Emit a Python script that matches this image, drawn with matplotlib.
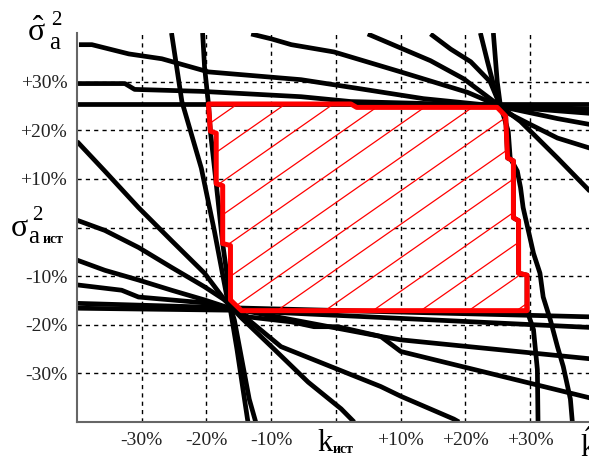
import numpy as np
import matplotlib
matplotlib.use('Agg')
import matplotlib.pyplot as plt
from matplotlib.patches import Polygon

plt.rcParams['mathtext.fontset'] = 'custom'
plt.rcParams['mathtext.rm'] = 'Liberation Serif'
plt.rcParams['mathtext.it'] = 'Liberation Serif:italic'

# axis values, in %
grid_vals = [-30, -20, -10, 0, 10, 20, 30]
x_tick_vals = [-30, -20, -10, 10, 20, 30]
x_tick_labels = ['-30%', '-20%', '-10%', '+10%', '+20%', '+30%']
y_tick_vals = [30, 20, 10, -10, -20, -30]
y_tick_labels = ['+30%', '+20%', '+10%', '-10%', '-20%', '-30%']

# black curves through the upper node (about +25%, +25%)
h25 = ([-40, 40], [25.3, 25.3])
line_a = ([-39.7, -37.7, -32, -26.9, -19.7, -5.4, 3.4, 13.5, 25.4, 40],
          [37.6, 37.6, 35.7, 34.7, 32.0, 30.4, 28.6, 26.5, 24.9, 23.4])
line_a2 = ([-40, -32.6, -31.1, -20.8, -5.4, 2.3, 25.4, 40],
           [29.6, 29.6, 28.4, 28.0, 26.9, 25.9, 25.1, 24.3])
line_b = ([-13.1, -10, -6.9, -0.3, 10, 20.3, 25.4, 34.2, 40],
          [39.8, 38.8, 37.6, 36.1, 32.0, 27.8, 24.9, 22.4, 21.0])
line_c = ([4.9, 14.6, 19.7, 25.4, 26.9, 30, 34.2, 40],
          [39.8, 34.3, 30.6, 24.9, 23.3, 21.2, 18.4, 16.0])
line_d = ([14.6, 17.7, 20.8, 23.8, 25.4, 28.5, 31.1, 34.2, 37.2, 40],
          [39.8, 36.7, 34.1, 30.0, 24.9, 21.8, 18.4, 14.3, 10.2, 6.4])
line_v1 = ([22.3, 23.4, 24.6, 25.4, 25.8, 26.6, 26.9, 28.0, 28.5, 28.9, 29.7,
            30.5, 31.5, 32.0, 33.1, 34.2, 35.1, 36.2, 36.5],
           [40, 34.1, 28.0, 24.9, 23.3, 19.8, 14.3, 11.6, 8.2, 4.1, -0.6,
            -5.3, -9.4, -14.3, -19.0, -24.5, -28.6, -35.3, -40])
line_v2 = ([24.3, 24.9, 25.4, 26.2, 26.5, 27.4, 27.4, 28.2, 28.2, 29.5, 29.5,
            30.5, 31.1, 31.2],
           [40, 30.0, 24.9, 22.9, 14.3, 13.7, 2.0, 1.4, -9.4, -9.8, -17.1,
            -21.0, -29.2, -40])

# black curves through the lower node (about -17%, -17%)
line_l0 = ([-25.4, -23.8, -20.8, -18.8, -16.9, -15.7, -13.4, -12.4],
           [40, 25.9, 12.2, -0.6, -13.9, -19.0, -35.3, -40])
line_red_left = ([-20.6, -20.3, -19.7, -19.4, -18.5, -17.5, -16.3, -16.3, -15.3, -13.6],
                 [40, 33, 25.4, 19.8, 9.0, -3.3, -14.9, -17.0, -25, -40])
line_l1 = ([-40, -35.7, -30.5, -25.4, -20.3, -17.2, -14.6, -9.5, -4.3, 0.8, 2.8],
           [17.7, 11.6, 4.1, -2.7, -9.4, -14.9, -18.6, -25.1, -31.8, -37.3, -40])
line_l2 = ([-40, -35.7, -30.5, -25.4, -20.3, -17.2, -13.5, -8.5, -2.3, 6.9, 10, 18.2, 19.0],
           [1.5, -0.6, -4.1, -8.2, -12.2, -14.9, -19.0, -24.5, -27.8, -32.7, -34.7, -39.4, -40])
line_l3 = ([-40, -35.7, -30.5, -25.4, -20.3, -16.6, 6.9, 10, 40],
           [-6.7, -8.8, -10.8, -12.9, -14.9, -16.5, -22.4, -25.5, -35.3])
line_l4 = ([-40, -33.1, -30.5, -20.3, -16.6, -13.5, -6.9, -3.4, 0.3, 6.9, 10, 40],
           [-11.8, -12.9, -14.3, -15.5, -16.5, -18.4, -19.4, -20.4, -20.4, -22.4, -23.1, -27.1])
line_l5a = ([-40, -16.6, 40], [-15.6, -16.5, -18.4])
line_l5b = ([-40, -16.6, 40], [-16.6, -17.0, -20.6])

black_lines = [h25, line_a, line_a2, line_b, line_c, line_d, line_v1, line_v2,
               line_l0, line_red_left, line_l1, line_l2, line_l3, line_l4,
               line_l5a, line_l5b]

# red region outline
red_x = [-19.7, -19.4, -18.5, -18.5, -17.5, -17.5, -16.3, -16.3, -14.6, 29.5,
         29.5, 28.2, 28.2, 27.4, 27.4, 26.5, 26.2, 24.9, 3.2, 2.3]
red_y = [25.4, 19.8, 19.4, 9.0, 8.6, -3.3, -3.7, -14.9, -17.1, -17.1,
         -9.8, -9.4, 1.4, 2.0, 13.7, 14.3, 22.9, 24.7, 24.7, 25.4]

# hatch style (slope in data units, spacing along x)
HATCH_SLOPE = 0.93
HATCH_STEP = 7.4
HATCH_PHASE = 13.1

W, H = 589, 458
fig = plt.figure(figsize=(W / 100, H / 100), dpi=100)
ax = fig.add_axes([77 / W, 36 / H, 518 / W, 389 / H])
ax.set_xlim(-40, 40)
ax.set_ylim(-40, 40)

# dashed grid
for v in grid_vals:
    ax.axvline(v, color='black', lw=1.0, ls=(0, (3, 3)), zorder=1)
    ax.axhline(v, color='black', lw=1.0, ls=(0, (3, 3)), zorder=1)

for xs, ys in black_lines:
    ax.plot(xs, ys, color='black', lw=3.4, solid_joinstyle='round',
            solid_capstyle='butt', zorder=2)

# red hatched region
poly = Polygon(np.column_stack([red_x, red_y]), closed=True, fill=False,
               edgecolor='#ff0000', lw=3.6, joinstyle='round', zorder=4)
ax.add_patch(poly)
clip = Polygon(np.column_stack([red_x, red_y]), closed=True, transform=ax.transData)
for k in range(-12, 12):
    x0 = HATCH_PHASE + HATCH_STEP * k
    hx = np.array([x0 - 60, x0 + 60])
    hy = -17.1 + HATCH_SLOPE * (hx - x0)
    ln, = ax.plot(hx, hy, color='#ff0000', lw=0.9, zorder=3)
    ln.set_clip_path(clip)

# axes look
for side in ['top', 'right']:
    ax.spines[side].set_visible(False)
for side in ['left', 'bottom']:
    ax.spines[side].set_color('#666666')
    ax.spines[side].set_linewidth(1.5)
    ax.spines[side].set_zorder(5)

tick_font = dict(family='Liberation Serif', size=14, color='#222222')
ax.set_xticks(x_tick_vals)
ax.set_xticklabels(x_tick_labels, **tick_font)
ax.set_yticks(y_tick_vals)
ax.set_yticklabels(y_tick_labels, **tick_font)
ax.tick_params(length=0, pad=7)

serif = 'Liberation Serif'


def px(x, y):
    return x / W, 1 - y / H


# sigma-hat label, top left
fig.text(*px(36, 41), r'$\hat{\mathrm{σ}}$', fontsize=23, ha='center', va='baseline')
fig.text(*px(56, 25), '2', family=serif, fontsize=15, ha='center', va='baseline')
fig.text(*px(55, 49), 'a', family=serif, fontsize=18, ha='center', va='baseline')

# sigma label, left middle
fig.text(*px(19, 236), 'σ', family=serif, fontsize=23, ha='center', va='baseline')
fig.text(*px(37, 220), '2', family=serif, fontsize=15, ha='center', va='baseline')
fig.text(*px(34, 243), 'a', family=serif, fontsize=18, ha='center', va='baseline')
fig.text(*px(43, 243), 'ист', family=serif, fontsize=10, weight='bold',
         ha='left', va='baseline')

# k label, bottom
fig.text(*px(325, 451), 'k', family=serif, fontsize=22, ha='center', va='baseline')
fig.text(*px(333, 453), 'ист', family=serif, fontsize=10, weight='bold',
         ha='left', va='baseline')

# k-hat label, cut by the right border as in the source picture
fig.text(*px(589, 457), r'$\hat{\mathrm{k}}$', fontsize=22, ha='center', va='baseline')

fig.savefig('out.png', dpi=100)
